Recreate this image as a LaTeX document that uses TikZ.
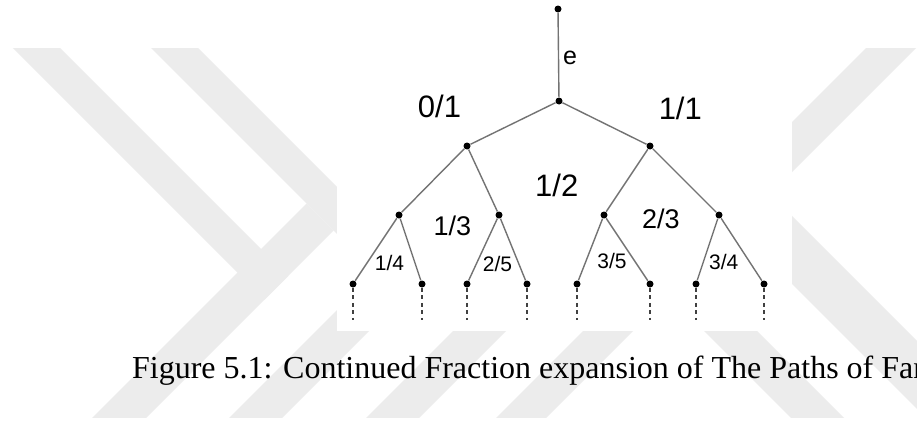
\documentclass[tikz,border=0pt]{standalone}
\usepackage{fontspec}
\setmainfont{Liberation Serif}
\newfontfamily\arialfont{Liberation Sans}
\usepackage{tikz}
\usetikzlibrary{positioning}

\tikzset{
  dot/.style={circle, fill=black, inner sep=0pt, minimum size=3.5pt},
  edge/.style={draw=gray!90!black, line width=0.7pt},
  tail/.style={black!75, line width=0.6pt, dash pattern=on 2pt off 1.75pt},
  bigfrac/.style={font=\arialfont\fontsize{15.5}{18}\selectfont, inner sep=0pt},
  midfrac/.style={font=\arialfont\fontsize{13.5}{16}\selectfont, inner sep=0pt},
  smallfrac/.style={font=\arialfont\fontsize{10.5}{12}\selectfont, inner sep=0pt},
  band/.style={fill=gray!15, draw=none}
}

\begin{document}
\begin{tikzpicture}[x=0.5pt, y=-0.5pt]
\useasboundingbox (0,0) rectangle (917,423);
\fill[white] (0,0) rectangle (917,423);
\begin{scope}
\clip (0,48) rectangle (917,417);
\fill[band] (-35,0) -- (12,0) -- (288,276) -- (264.5,299.5) -- cycle;
\fill[band] (80,430) -- (134,430) -- (333.5,230.5) -- (306.5,203.5) -- cycle;
\fill[band] (103,0) -- (150,0) -- (425,275) -- (401.5,298.5) -- cycle;
\fill[band] (217,430) -- (270,430) -- (520,180) -- (467,180) -- cycle;
\fill[band] (354,430) -- (407,430) -- (637,200) -- (584,200) -- cycle;
\fill[band] (484,430) -- (534,430) -- (964,0) -- (914,0) -- cycle;
\fill[band] (708,200) -- (776,200) -- (1076,500) -- (1008,500) -- cycle;
\fill[band] (623,250) -- (676,250) -- (926,500) -- (873,500) -- cycle;
\end{scope}
\fill[white] (337,0) rectangle (792,331);

\node[dot] (top) at (558,9) {};
\node[dot] (root) at (559,101) {};
\node[dot] (a) at (467,146) {};
\node[dot] (b) at (650,146) {};
\node[dot] (aa) at (399,215) {};
\node[dot] (ab) at (499,215) {};
\node[dot] (ba) at (604,215) {};
\node[dot] (bb) at (719,215) {};
\node[dot] (l1) at (353,284) {};
\node[dot] (l2) at (422,284) {};
\node[dot] (l3) at (467,284) {};
\node[dot] (l4) at (527,284) {};
\node[dot] (l5) at (577,284) {};
\node[dot] (l6) at (650,284) {};
\node[dot] (l7) at (696,284) {};
\node[dot] (l8) at (764,284) {};
\coordinate (tailend) at (0,320);

\draw[edge] (top) -- (root);
\draw[edge] (root) -- (a);
\draw[edge] (root) -- (b);
\draw[edge] (a) -- (aa);
\draw[edge] (a) -- (ab);
\draw[edge] (b) -- (ba);
\draw[edge] (b) -- (bb);
\draw[edge] (aa) -- (l1);
\draw[edge] (aa) -- (l2);
\draw[edge] (ab) -- (l3);
\draw[edge] (ab) -- (l4);
\draw[edge] (ba) -- (l5);
\draw[edge] (ba) -- (l6);
\draw[edge] (bb) -- (l7);
\draw[edge] (bb) -- (l8);
\foreach \n in {1,...,8}
  \draw[tail] (l\n.south) -- (l\n |- tailend);

\node[font=\arialfont\fontsize{12.5}{15}\selectfont, inner sep=0pt] (lbe) at (570,58) {e};
\node[bigfrac] (lb01) at (439.5,106.7) {0/1};
\node[bigfrac] (lb11) at (680.3,108.7) {1/1};
\node[bigfrac] (lb12) at (556.7,185) {1/2};
\node[midfrac] (lb13) at (452.3,225.8) {1/3};
\node[midfrac] (lb23) at (660.8,219.2) {2/3};
\node[smallfrac] (lb14) at (389.5,262.5) {1/4};
\node[smallfrac] (lb25) at (497.5,264.2) {2/5};
\node[smallfrac] (lb35) at (612,260.8) {3/5};
\node[smallfrac] (lb34) at (723.8,261.8) {3/4};

\node[anchor=base west, inner sep=0pt, font=\fontsize{16}{19}\selectfont] (caption) at (131.7,378.3)
  {Figure 5.1: Continued Fraction expansion of The Paths of Far};
\end{tikzpicture}
\end{document}
